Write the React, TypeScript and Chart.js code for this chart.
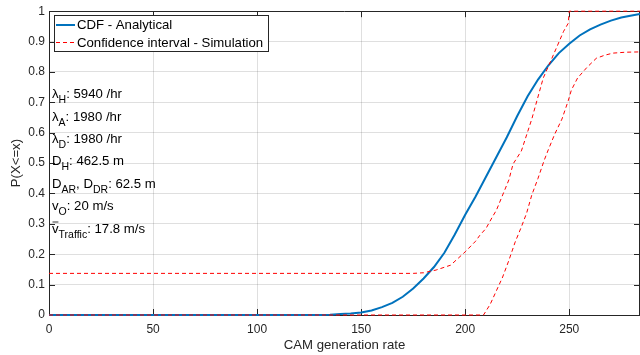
import React, { useEffect, useRef } from "react";
import { Chart, registerables } from "chart.js";

Chart.register(...registerables);

// ---------- data ----------
const xTickValues = [0, 50, 100, 150, 200, 250];
const xMax = 284;
const yTickValues = [0, 0.1, 0.2, 0.3, 0.4, 0.5, 0.6, 0.7, 0.8, 0.9, 1];

const seriesLabels = ["CDF - Analytical", "Confidence interval - Simulation"];

const cdfX = [0, 130, 135, 140, 145, 150, 155, 160, 165, 170, 175, 180, 185, 190, 195, 200, 205, 210, 215, 220, 225, 230, 235, 240, 245, 250, 255, 260, 265, 270, 275, 280, 284];
const cdfY = [0, 0, 0.001, 0.003, 0.005, 0.008, 0.015, 0.026, 0.04, 0.06, 0.087, 0.12, 0.158, 0.205, 0.265, 0.33, 0.39, 0.455, 0.52, 0.585, 0.655, 0.72, 0.775, 0.822, 0.862, 0.893, 0.92, 0.94, 0.956, 0.969, 0.979, 0.986, 0.991];

const upperX = [0, 175, 180, 186, 193, 200, 205, 207, 210, 213, 215, 218, 221, 223, 227, 232, 237.5, 242.5, 247.3, 249.5, 250, 284];
const upperY = [0.137, 0.137, 0.139, 0.148, 0.164, 0.208, 0.243, 0.262, 0.285, 0.322, 0.345, 0.395, 0.445, 0.497, 0.54, 0.645, 0.78, 0.858, 0.934, 0.96, 1, 1];

const lowerX = [0, 208.8, 212, 215, 218, 221, 224, 227, 229.5, 232, 235, 238, 240, 243, 246.5, 249.5, 251, 254, 258.5, 263, 267, 271, 277, 284];
const lowerY = [0, 0, 0.035, 0.08, 0.125, 0.18, 0.24, 0.29, 0.335, 0.395, 0.45, 0.51, 0.545, 0.595, 0.645, 0.705, 0.74, 0.78, 0.815, 0.845, 0.855, 0.862, 0.865, 0.866];

// annotation text: segments [text, kind] kind: n = normal, s = subscript, b = overlined normal
const infoLines: [string, string][][] = [
  [["λ", "n"], ["H", "s"], [": 5940 /hr", "n"]],
  [["λ", "n"], ["A", "s"], [": 1980 /hr", "n"]],
  [["λ", "n"], ["D", "s"], [": 1980 /hr", "n"]],
  [["D", "n"], ["H", "s"], [": 462.5 m", "n"]],
  [["D", "n"], ["AR", "s"], [", D", "n"], ["DR", "s"], [": 62.5 m", "n"]],
  [["v", "n"], ["O", "s"], [": 20 m/s", "n"]],
  [["v", "b"], ["Traffic", "s"], [": 17.8 m/s", "n"]],
];

const FONT = '"Liberation Sans", Arial, Helvetica, sans-serif';
const AXIS = "#262626";
const BLUE = "#0072BD";
const RED = "#FF0000";

const toPts = (xs: number[], ys: number[]) => xs.map((x, i) => ({ x, y: ys[i] }));

const frame = {
  id: "frame",
  beforeDatasetsDraw(chart: any) {
    const { ctx, chartArea } = chart;
    const { left, right, top, bottom } = chartArea;
    const xs = chart.scales.x;
    const ys = chart.scales.y;
    ctx.save();
    ctx.strokeStyle = AXIS;
    ctx.lineWidth = 1;
    ctx.beginPath();
    const t = Math.round(top) + 0.5;
    const r = Math.round(right) - 0.5;
    ctx.moveTo(left, t);
    ctx.lineTo(right, t);
    ctx.moveTo(r, top);
    ctx.lineTo(r, bottom);
    const L = 6;
    xTickValues.forEach((v) => {
      const p = Math.round(xs.getPixelForValue(v)) + 0.5;
      ctx.moveTo(p, bottom);
      ctx.lineTo(p, bottom - L);
      ctx.moveTo(p, top);
      ctx.lineTo(p, top + L);
    });
    yTickValues.forEach((v) => {
      const p = Math.round(ys.getPixelForValue(v)) + 0.5;
      ctx.moveTo(left, p);
      ctx.lineTo(left + L, p);
      ctx.moveTo(right, p);
      ctx.lineTo(right - L, p);
    });
    ctx.stroke();
    ctx.restore();
  },
  afterDraw(chart: any) {
    const { ctx } = chart;
    ctx.save();
    // info text
    ctx.fillStyle = "#000";
    ctx.textBaseline = "alphabetic";
    ctx.textAlign = "left";
    const baselines = [98, 120.5, 143, 165, 187.5, 210, 232.5];
    infoLines.forEach((segs, i) => {
      let x = 52;
      const y = baselines[i];
      segs.forEach(([txt, kind]) => {
        if (kind === "s") {
          ctx.font = `10.5px ${FONT}`;
          ctx.fillText(txt, x, y + 5);
          x += ctx.measureText(txt).width;
        } else {
          ctx.font = `13.2px ${FONT}`;
          ctx.fillText(txt, x, y);
          const w = ctx.measureText(txt).width;
          if (kind === "b") {
            ctx.beginPath();
            ctx.strokeStyle = "#000";
            ctx.lineWidth = 0.8;
            ctx.moveTo(x + 0.5, y - 10.5);
            ctx.lineTo(x + w - 0.2, y - 10.5);
            ctx.stroke();
          }
          x += w;
        }
      });
    });
    // legend
    const bx = 54.5, by = 15.5, bw = 214, bh = 36;
    ctx.fillStyle = "#fff";
    ctx.fillRect(bx, by, bw, bh);
    ctx.strokeStyle = AXIS;
    ctx.lineWidth = 1;
    ctx.strokeRect(bx, by, bw, bh);
    const rows = [25, 42.5];
    ctx.font = `13.2px ${FONT}`;
    ctx.textBaseline = "middle";
    ctx.beginPath();
    ctx.strokeStyle = BLUE;
    ctx.lineWidth = 2;
    ctx.moveTo(56, rows[0]);
    ctx.lineTo(75, rows[0]);
    ctx.stroke();
    ctx.beginPath();
    ctx.strokeStyle = RED;
    ctx.lineWidth = 1;
    ctx.setLineDash([4, 3]);
    ctx.moveTo(56, rows[1]);
    ctx.lineTo(75, rows[1]);
    ctx.stroke();
    ctx.setLineDash([]);
    ctx.fillStyle = "#000";
    ctx.fillText(seriesLabels[0], 77, rows[0] + 0.5);
    ctx.fillText(seriesLabels[1], 77, rows[1] + 0.5);
    ctx.restore();
  },
};

export default function App() {
  const ref = useRef<HTMLCanvasElement | null>(null);
  useEffect(() => {
    if (!ref.current) return;
    const gridColor = "rgba(38,38,38,0.15)";
    const chart = new Chart(ref.current, {
      type: "line",
      data: {
        datasets: [
          {
            label: seriesLabels[0],
            data: toPts(cdfX, cdfY),
            borderColor: BLUE,
            borderWidth: 2,
            pointRadius: 0,
            tension: 0,
            clip: false,
            order: 3,
          },
          {
            label: seriesLabels[1],
            data: toPts(upperX, upperY),
            borderColor: RED,
            borderWidth: 1,
            borderDash: [4, 3],
            pointRadius: 0,
            tension: 0,
            clip: false,
            order: 1,
          },
          {
            label: seriesLabels[1] + " (lower)",
            data: toPts(lowerX, lowerY),
            borderColor: RED,
            borderWidth: 1,
            borderDash: [4, 3],
            pointRadius: 0,
            tension: 0,
            clip: false,
            order: 2,
          },
        ],
      } as any,
      options: {
        animation: false,
        responsive: false,
        maintainAspectRatio: false,
        layout: { padding: { top: 10, right: 0, left: 0, bottom: 0 }, autoPadding: false } as any,
        plugins: {
          legend: { display: false },
          tooltip: { enabled: false },
        },
        scales: {
          x: {
            type: "linear",
            min: 0,
            max: xMax,
            afterFit: (s: any) => {
              s.height = 40;
            },
            ticks: {
              stepSize: 50,
              includeBounds: false,
              autoSkip: false,
              maxRotation: 0,
              color: AXIS,
              padding: 7,
              font: { family: FONT, size: 12 },
            },
            grid: { color: gridColor, drawTicks: false },
            border: { color: AXIS, width: 1 },
            title: {
              display: true,
              text: "CAM generation rate",
              color: AXIS,
              font: { family: FONT, size: 13.2 },
              padding: { top: 0, bottom: 2 },
            },
          },
          y: {
            type: "linear",
            min: 0,
            max: 1,
            afterFit: (s: any) => {
              s.width = 49;
            },
            ticks: {
              stepSize: 0.1,
              includeBounds: false,
              autoSkip: false,
              color: AXIS,
              padding: 4,
              font: { family: FONT, size: 12 },
              callback: (v: any) => String(Math.round(Number(v) * 10) / 10),
            },
            grid: { color: gridColor, drawTicks: false },
            border: { color: AXIS, width: 1 },
            title: {
              display: true,
              text: "P(X<=x)",
              color: AXIS,
              font: { family: FONT, size: 13.2 },
              padding: { top: 8, bottom: 0 },
            },
          },
        },
      } as any,
      plugins: [frame],
    });
    return () => chart.destroy();
  }, []);
  return (
    <canvas
      ref={ref}
      width={640}
      height={355}
      style={{ position: "fixed", left: 0, top: 0, width: 640, height: 355, background: "#fff" }}
    />
  );
}
